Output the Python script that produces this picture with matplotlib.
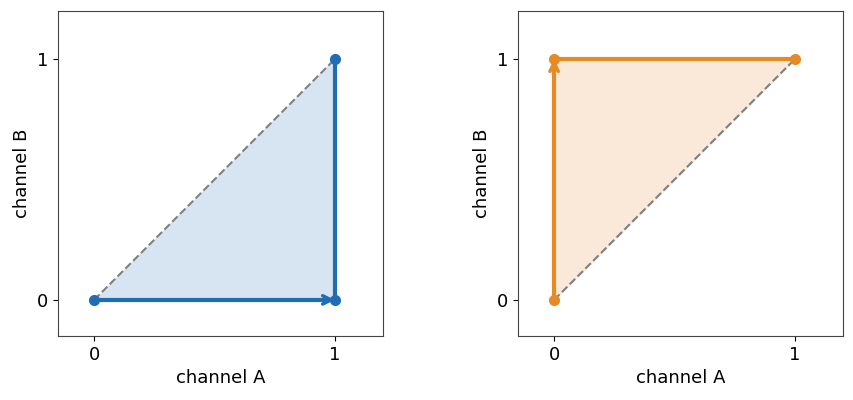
import matplotlib
matplotlib.use("Agg")
import matplotlib.pyplot as plt

paths = {
    "left": {"x": [0, 1, 1], "y": [0, 0, 1], "color": "#1f6eb4", "fill": "#d7e4f2"},
    "right": {"x": [0, 0, 1], "y": [0, 1, 1], "color": "#e68a25", "fill": "#fae9d8"},
}
ticks = [0, 1]
tick_labels = ["0", "1"]

fig = plt.figure(figsize=(8.54, 4.0), dpi=100)
W, H = 854, 400
boxes = [(58, 11, 325, 325), (518, 11, 325, 325)]
for (l, t, w, h), key in zip(boxes, ["left", "right"]):
    p = paths[key]
    ax = fig.add_axes([l / W, 1 - (t + h) / H, w / W, h / H])
    ax.fill(p["x"], p["y"], color=p["fill"], zorder=1)
    ax.plot([0, 1], [0, 1], ls="--", color="gray", lw=1.5, zorder=2)
    ax.plot(p["x"], p["y"], color=p["color"], lw=3, zorder=3)
    ax.plot(p["x"], p["y"], "o", color=p["color"], ms=7, zorder=5)
    ax.annotate("", xy=(p["x"][1], p["y"][1]), xytext=(p["x"][0], p["y"][0]),
                arrowprops=dict(arrowstyle="->", color=p["color"], lw=2.5,
                                mutation_scale=15, shrinkA=0, shrinkB=0), zorder=4)
    ax.set_xlim(-0.15, 1.2)
    ax.set_ylim(-0.15, 1.2)
    ax.set_xticks(ticks, tick_labels, fontsize=13)
    ax.set_yticks(ticks, tick_labels, fontsize=13)
    ax.set_xlabel("channel A", fontsize=13)
    ax.set_ylabel("channel B", fontsize=13)
    for s in ax.spines.values():
        s.set_color("#444444")

fig.savefig("out.png", dpi=100)
